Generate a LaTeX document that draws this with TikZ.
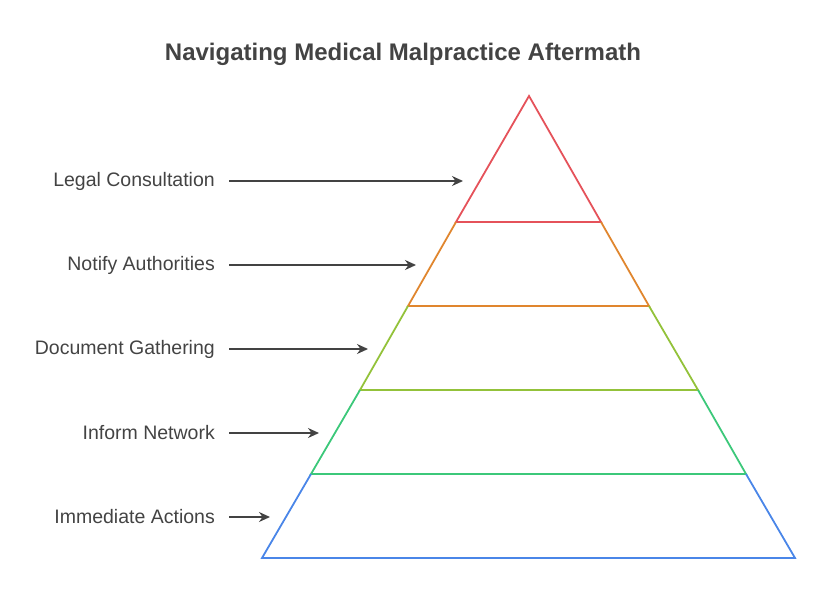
\documentclass[tikz,border=0pt]{standalone}
\usepackage{fontspec}
\setmainfont{Liberation Sans}
\usepackage{tikz}
\usetikzlibrary{arrows.meta}
\definecolor{txt}{HTML}{434343}
\definecolor{lvlA}{HTML}{E5525A}
\definecolor{lvlB}{HTML}{E0862E}
\definecolor{lvlC}{HTML}{93C23A}
\definecolor{lvlD}{HTML}{3CC87A}
\definecolor{lvlE}{HTML}{4A86E8}
\tikzset{
  lbl/.style={anchor=east, inner sep=0pt, text=txt, font=\fontsize{19.5}{22}\selectfont},
  pointer/.style={draw=txt, line width=1.6pt, -{Stealth[length=11pt,width=10pt]}},
  edge/.style={line width=1.8pt}
}
\begin{document}
\begin{tikzpicture}[x=1pt,y=-1pt]
\useasboundingbox (0,0) rectangle (821,608);
\node[text=txt, font=\bfseries\fontsize{24}{28}\selectfont] (title) at (403,54) {Navigating Medical Malpractice Aftermath};
% pyramid corners
\coordinate (top) at (529,96);
\coordinate (l1) at (456,222); \coordinate (r1) at (601,222);
\coordinate (l2) at (408,306); \coordinate (r2) at (649,306);
\coordinate (l3) at (360,390); \coordinate (r3) at (698,390);
\coordinate (l4) at (311,474); \coordinate (r4) at (746,474);
\coordinate (l5) at (262,558); \coordinate (r5) at (795,558);
\draw[edge, lvlA] (l1) -- (top) -- (r1) -- cycle;
\draw[edge, lvlB] (l1) -- (l2) -- (r2) -- (r1);
\draw[edge, lvlC] (l2) -- (l3) -- (r3) -- (r2);
\draw[edge, lvlD] (l3) -- (l4) -- (r4) -- (r3);
\draw[edge, lvlE] (l4) -- (l5) -- (r5) -- (r4);
% labels
\node[lbl] (legal) at (215,181) {Legal Consultation};
\node[lbl] (notify) at (215,265) {Notify Authorities};
\node[lbl] (docs) at (215,349) {Document Gathering};
\node[lbl] (inform) at (215,433) {Inform Network};
\node[lbl] (actions) at (215,517) {Immediate Actions};
\coordinate (pA) at (463,181);
\coordinate (pB) at (416,265);
\coordinate (pC) at (368,349);
\coordinate (pD) at (319,433);
\coordinate (pE) at (270,517);
\draw[pointer] ([xshift=14pt]legal.east) -- (pA);
\draw[pointer] ([xshift=14pt]notify.east) -- (pB);
\draw[pointer] ([xshift=14pt]docs.east) -- (pC);
\draw[pointer] ([xshift=14pt]inform.east) -- (pD);
\draw[pointer] ([xshift=14pt]actions.east) -- (pE);
\end{tikzpicture}
\end{document}
